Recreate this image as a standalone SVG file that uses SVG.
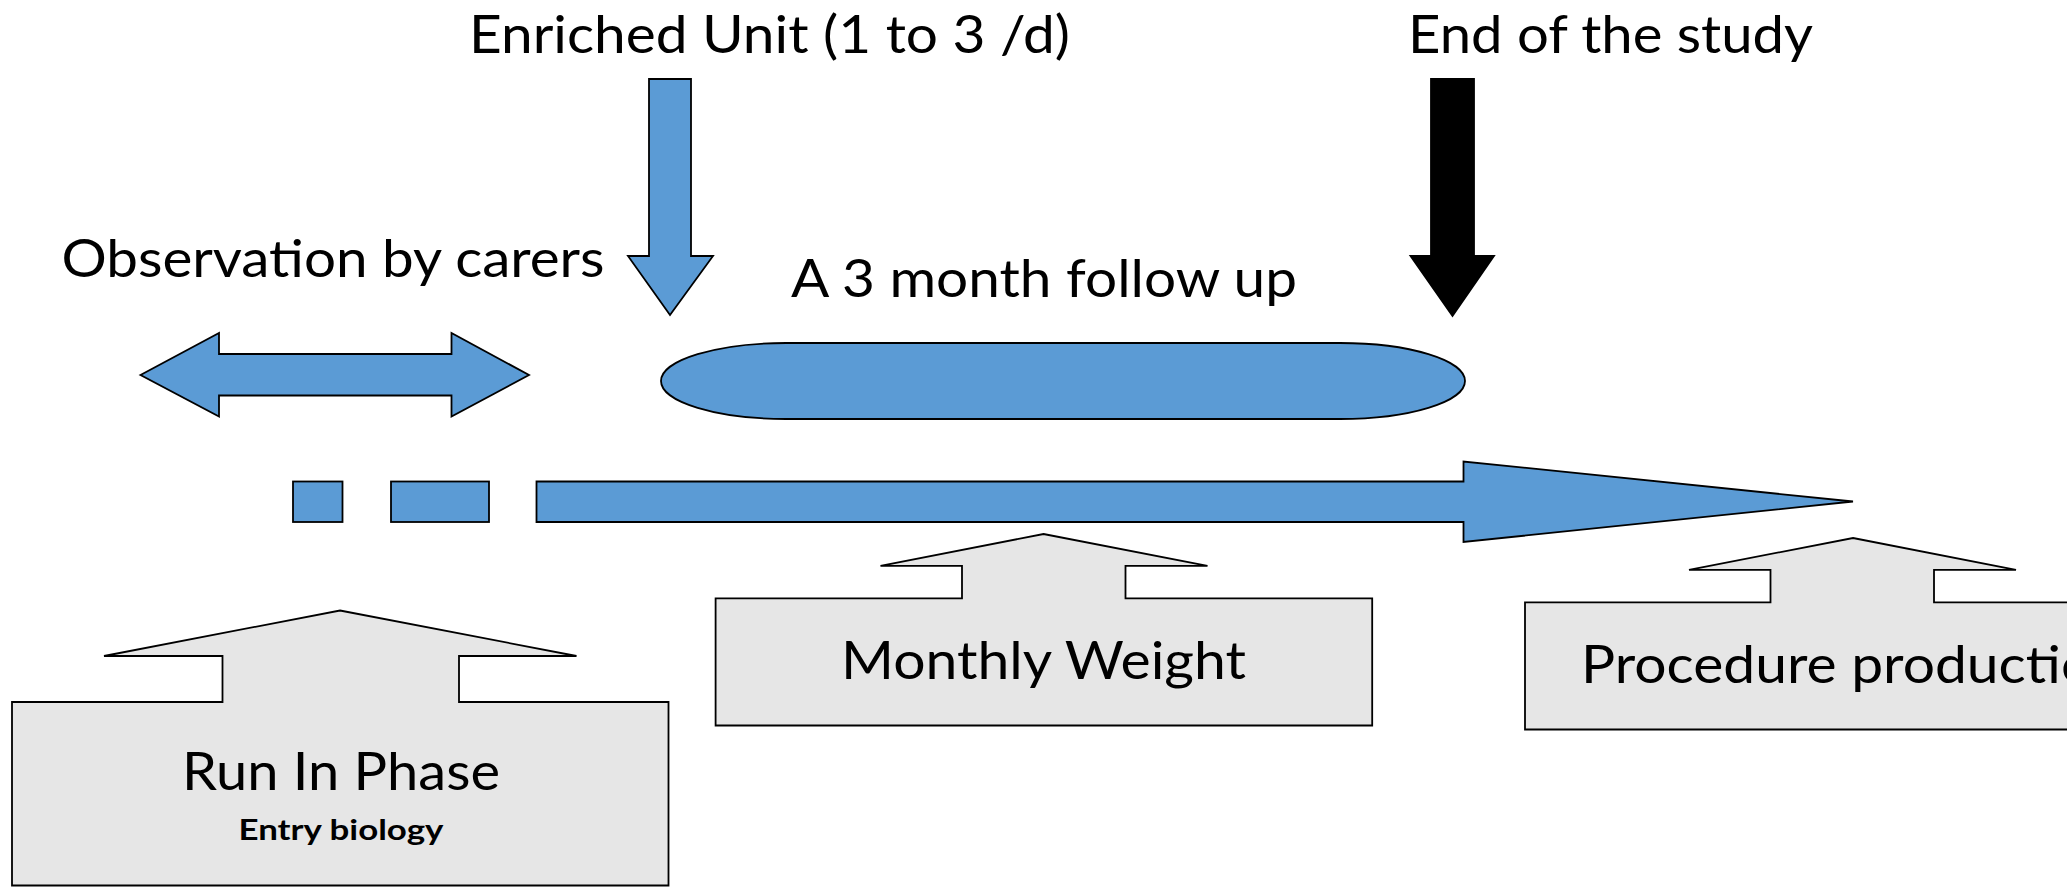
<svg xmlns="http://www.w3.org/2000/svg" width="2067" height="889" viewBox="0 0 2067 889">
<style>
.blue{fill:#5B9BD5;stroke:#000;stroke-width:1.8;stroke-linejoin:miter}
.black{fill:#000;stroke:#000;stroke-width:1.8}
.grey{fill:#E6E6E6;stroke:#000;stroke-width:1.8;stroke-linejoin:miter}
.t{font-family:Lato,"Open Sans","Liberation Sans",sans-serif;font-size:52px;fill:#000}
.tb{font-family:Lato,"Open Sans","Liberation Sans",sans-serif;font-size:29px;font-weight:bold;fill:#000}
</style>
<rect width="2067" height="889" fill="#fff"/>
<g id="label-enriched"><text class="t" x="469" y="53" textLength="601" lengthAdjust="spacingAndGlyphs">Enriched Unit (1 to 3 /d)</text></g>
<g id="label-end"><text class="t" x="1408" y="53" textLength="405" lengthAdjust="spacingAndGlyphs">End of the study</text></g>
<g id="label-observation"><text class="t" x="61.5" y="277" textLength="543" lengthAdjust="spacingAndGlyphs">Observation by carers</text></g>
<g id="label-followup"><text class="t" x="791" y="297" textLength="506" lengthAdjust="spacingAndGlyphs">A 3 month follow up</text></g>
<g id="connectors">
<path id="arrow-enriched" class="blue" d="M649,79 H691 V256 H713 L670,315 L628,256 H649 Z"/>
<path id="arrow-end" class="black" d="M1431,79 H1474 V256 H1494 L1452.5,316 L1410.5,256 H1431 Z"/>
<path id="arrow-observation" class="blue" d="M140.5,375 L219,333 V354 H451.5 V333 L529,375 L451.5,416.5 V395.5 H219 V416.5 Z"/>
<rect id="follow-up-bar" class="blue" x="661" y="343" width="804" height="76" rx="125" ry="38"/>
<rect id="dash1" class="blue" x="293" y="481.5" width="49.5" height="40.5"/>
<rect id="dash2" class="blue" x="391" y="481.5" width="98" height="40.5"/>
<path id="timeline-arrow" class="blue" d="M536.5,481.5 H1463.5 V461.5 L1853,501.5 L1463.5,542 V522 H536.5 Z"/>
</g>
<g id="node-run-in">
<path class="grey" d="M340,610.5 L576.5,656 H459 V702 H668.5 V885.5 H12 V702 H222.5 V656 H104 Z"/>
<text class="t" x="182" y="790" font-size="54" textLength="318" lengthAdjust="spacingAndGlyphs">Run In Phase</text>
<text class="tb" x="238.5" y="840" textLength="205" lengthAdjust="spacingAndGlyphs">Entry biology</text>
</g>
<g id="node-monthly">
<path class="grey" d="M1043.5,534 L1207.5,565.8 H1125.5 V598.3 H1372.2 V725.5 H715.6 V598.3 H962 V565.8 H880.5 Z"/>
<text class="t" x="841" y="679" font-size="54" textLength="405" lengthAdjust="spacingAndGlyphs">Monthly Weight</text>
</g>
<g id="node-procedure">
<path class="grey" d="M1853,538 L2016,569.8 H1934 V602.4 H2181 V729.5 H1525 V602.4 H1770.5 V569.8 H1689 Z"/>
<text class="t" x="1581" y="683" font-size="54" textLength="544" lengthAdjust="spacingAndGlyphs">Procedure production</text>
</g>
</svg>
